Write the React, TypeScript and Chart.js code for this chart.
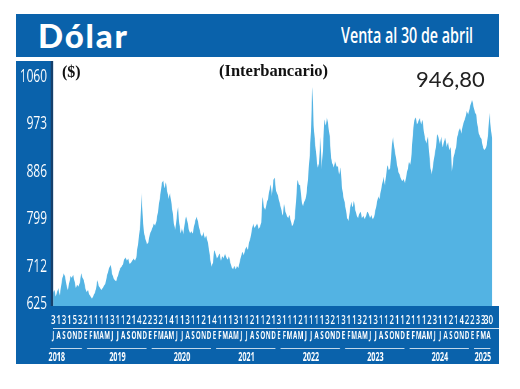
import React, { useEffect, useRef } from "react";
import { Chart, registerables } from "chart.js";

Chart.register(...registerables);

// ---------- DATA ----------
// Four readings per month (roughly weekly), Jul 2018 – Apr 30 2025
const v2018 = [
  662, 668, 656, 664, 672, 658, 675, 690, 699, 692, 678, 668,
  680, 694, 690, 696, 684, 672, 678, 674, 682, 699, 690, 686,
];
const v2019 = [
  672, 664, 668, 660, 656, 652, 657, 662, 670, 686, 676, 672,
  668, 672, 676, 680, 692, 702, 710, 714, 698, 690, 686, 684,
  692, 700, 708, 711, 715, 724, 728, 722, 726, 716, 718, 722,
  726, 722, 728, 748, 766, 790, 846, 790, 770, 760, 752, 756,
];
const v2020 = [
  770, 776, 782, 790, 786, 795, 810, 828, 845, 864, 869, 855,
  866, 850, 835, 846, 830, 812, 790, 778, 800, 821, 790, 772,
  782, 770, 790, 803, 795, 780, 772, 776, 772, 785, 796, 803,
  792, 780, 770, 766, 775, 762, 768, 758, 745, 725, 711, 718,
];
const v2021 = [
  741, 735, 726, 730, 735, 722, 730, 726, 735, 728, 724, 730,
  718, 710, 706, 712, 706, 712, 708, 720, 730, 738, 732, 742,
  748, 742, 756, 764, 778, 790, 782, 786, 790, 780, 784, 792,
  839, 820, 815, 827, 835, 850, 862, 840, 870, 874, 850, 845,
];
const v2022 = [
  835, 825, 815, 805, 826, 812, 805, 800, 806, 795, 785, 790,
  800, 835, 870, 862, 860, 833, 822, 830, 835, 850, 880, 912,
  960, 1041, 970, 940, 915, 893, 900, 949, 890, 930, 981, 970,
  985, 968, 950, 910, 900, 893, 905, 895, 895, 880, 893, 860,
];
const v2023 = [
  840, 830, 815, 800, 795, 815, 830, 820, 832, 815, 806, 800,
  808, 812, 800, 805, 798, 804, 812, 808, 800, 806, 798, 802,
  815, 826, 840, 835, 850, 862, 876, 860, 880, 897, 888, 892,
  925, 949, 930, 915, 900, 885, 880, 872, 868, 872, 864, 878,
];
const v2024 = [
  890, 903, 898, 920, 960, 980, 985, 972, 978, 984, 972, 980,
  960, 945, 937, 950, 920, 891, 880, 900, 915, 930, 954, 948,
  935, 950, 930, 940, 948, 930, 940, 925, 930, 885, 910, 920,
  930, 950, 960, 966, 955, 970, 978, 985, 997, 990, 1000, 1010,
];
const v2025 = [
  1017, 1005, 995, 990, 970, 955, 949, 945, 930, 925, 928, 935,
  960, 993, 960, 946.8,
];
const POINTS_PER_MONTH = 4;

// x-axis: first row (day digits), second row (month initials), years
const tickDays = [
  "3", "1", "3", "1", "5", "3",
  "2", "1", "1", "1", "1", "3", "1", "1", "2", "1", "4", "2",
  "2", "3", "2", "1", "4", "1", "1", "3", "1", "1", "2", "1",
  "4", "1", "1", "1", "3", "1", "1", "2", "1", "1", "2", "1",
  "3", "1", "1", "1", "2", "1", "1", "1", "1", "3", "2", "1",
  "3", "1", "1", "3", "2", "1", "3", "1", "1", "2", "1", "1",
  "2", "1", "1", "1", "2", "3", "1", "1", "2", "1", "4", "2",
  "2", "3", "3", "30",
];
const monthLetters = [
  "J", "A", "S", "O", "N", "D",
  "E", "F", "M", "A", "M", "J", "J", "A", "S", "O", "N", "D",
  "E", "F", "M", "A", "M", "J", "J", "A", "S", "O", "N", "D",
  "E", "F", "M", "A", "M", "J", "J", "A", "S", "O", "N", "D",
  "E", "F", "M", "A", "M", "J", "J", "A", "S", "O", "N", "D",
  "E", "F", "M", "A", "M", "J", "J", "A", "S", "O", "N", "D",
  "E", "F", "M", "A", "M", "J", "J", "A", "S", "O", "N", "D",
  "E", "F", "M", "A",
];
const yearLabels = ["2018", "2019", "2020", "2021", "2022", "2023", "2024", "2025"];
const yearFirstMonth = [0, 6, 18, 30, 42, 54, 66, 78];
const yTicks = [625, 712, 799, 886, 973, 1060];

const TITLE = "Dólar";
const SUBTITLE = "Venta al 30 de abril";
const UNIT = "($)";
const SERIES_NAME = "(Interbancario)";
const LAST_VALUE = "946,80";

// ---------- STYLE ----------
const BLUE = "#0a62ab";
const STRIPE = "#15406c";
const AREA = "#53b3e3";
const K = 1.6; // internal horizontal scale of the canvas (condensed type)
const CANVAS_W = 483;
const CANVAS_H = 303;
const AXIS_FONT = "'Open Sans', 'DejaVu Sans', sans-serif";

export default function App() {
  const ref = useRef<HTMLCanvasElement | null>(null);

  useEffect(() => {
    const canvas = ref.current;
    if (!canvas) return;
    const all = [...v2018, ...v2019, ...v2020, ...v2021, ...v2022, ...v2023, ...v2024, ...v2025];
    const points = all.map((v, i) => ({ x: i / POINTS_PER_MONTH, y: v }));
    const nMonths = monthLetters.length;
    const xMax = nMonths + 1;

    const frame = {
      id: "frame",
      afterDatasetsDraw(chart: any) {
        const { ctx, chartArea, width, height } = chart;
        const xs = chart.scales.x;
        const x3 = chart.scales.x3;
        const panelTop = chartArea.bottom - 7.5;
        ctx.save();
        ctx.fillStyle = BLUE;
        ctx.fillRect(0, 0, chartArea.left, height);
        ctx.fillRect(0, panelTop, width, height - panelTop);
        ctx.fillStyle = STRIPE;
        ctx.fillRect(chartArea.left - 3.5, 0, 3.5, panelTop);
        ctx.strokeStyle = "rgba(255,255,255,0.75)";
        ctx.lineWidth = 1;
        yearFirstMonth.forEach((s, i) => {
          const e = i + 1 < yearFirstMonth.length ? yearFirstMonth[i + 1] : nMonths;
          const a = xs.getPixelForValue(s + (i === 0 ? -0.5 : 0.35));
          const b = xs.getPixelForValue(e - 0.6);
          const y = Math.round(x3.top) + 0.5;
          ctx.beginPath();
          ctx.moveTo(a, y);
          ctx.lineTo(b, y);
          ctx.stroke();
        });
        ctx.restore();
      },
    };

    const baseX = (weight: number, h: number) => ({
      type: "linear" as const,
      position: "bottom" as const,
      min: 0,
      max: xMax,
      weight,
      grid: { display: false, drawTicks: false },
      border: { display: false },
      afterFit: (s: any) => {
        s.height = h;
        s.paddingLeft = 0;
        s.paddingRight = 0;
      },
    });

    const chart = new Chart(canvas, {
      type: "line",
      data: {
        datasets: [
          {
            data: points,
            fill: "start",
            backgroundColor: AREA,
            borderWidth: 0,
            borderColor: AREA,
            pointRadius: 0,
            tension: 0,
          },
        ],
      },
      plugins: [frame],
      options: {
        animation: false,
        responsive: false,
        devicePixelRatio: 1,
        events: [],
        layout: { padding: 0 },
        plugins: { legend: { display: false }, tooltip: { enabled: false }, title: { display: false } },
        scales: {
          x: {
            ...baseX(0, 14.5),
            afterBuildTicks: (s: any) => {
              s.ticks = tickDays.map((_, i) => ({ value: i + 0.05 }));
            },
            ticks: {
              autoSkip: false,
              maxRotation: 0,
              minRotation: 0,
              color: "#ffffff",
              padding: 0.5,
              z: 1,
              font: { family: AXIS_FONT, size: 12.5, weight: "600", lineHeight: 1 },
              callback: (_v: any, i: number) => tickDays[i],
            },
          },
          x2: {
            ...baseX(1, 20),
            border: { display: true, color: "rgba(255,255,255,0.8)", width: 1, dash: [6.4, 2.2], z: 1 },
            afterBuildTicks: (s: any) => {
              s.ticks = monthLetters.map((_, i) => ({ value: i + 0.05 }));
            },
            ticks: {
              autoSkip: false,
              maxRotation: 0,
              minRotation: 0,
              color: "#ffffff",
              padding: 3.5,
              z: 1,
              font: { family: AXIS_FONT, size: 10, weight: "bold", lineHeight: 1 },
              callback: (_v: any, i: number) => monthLetters[i],
            },
          },
          x3: {
            ...baseX(2, 16),
            afterBuildTicks: (s: any) => {
              s.ticks = yearFirstMonth.map((m, i) => {
                const e = i + 1 < yearFirstMonth.length ? yearFirstMonth[i + 1] : nMonths;
                return { value: i === 0 ? m + 0.7 : (m + e) / 2 };
              });
            },
            ticks: {
              autoSkip: false,
              maxRotation: 0,
              minRotation: 0,
              color: "#ffffff",
              padding: 3.5,
              z: 1,
              font: { family: AXIS_FONT, size: 11.5, weight: "bold", lineHeight: 1 },
              callback: (_v: any, i: number) => yearLabels[i],
            },
          },
          y: {
            type: "linear",
            position: "left",
            min: 625,
            max: 1088.5,
            grid: { display: false, drawTicks: false },
            border: { display: false },
            afterBuildTicks: (s: any) => {
              s.ticks = yTicks.map((v) => ({ value: v }));
            },
            afterFit: (s: any) => {
              s.width = 37 * K;
              s.paddingTop = 0;
              s.paddingBottom = 0;
            },
            ticks: {
              color: "#ffffff",
              padding: 9.6,
              z: 1,
              font: { family: AXIS_FONT, size: 19, weight: "normal", lineHeight: 1 },
              callback: (v: any) => (v === yTicks[0] ? [String(v), ""] : String(v)),
            },
          },
        },
      } as any,
    });
    return () => chart.destroy();
  }, []);

  return (
    <div style={{ position: "absolute", left: 0, top: 0, width: 520, height: 389, background: "#fff", overflow: "hidden" }}>
      <div style={{ position: "absolute", left: 16, top: 14, width: 483, height: 43, background: BLUE }}>
        <div
          style={{
            position: "absolute",
            left: 22,
            top: 2,
            color: "#fff",
            fontFamily: "Lato, 'Open Sans', sans-serif",
            fontWeight: 900,
            fontSize: 33,
            letterSpacing: 1.8,
            lineHeight: "38px",
            whiteSpace: "nowrap",
          }}
        >
          {TITLE}
        </div>
        <div style={{ position: "absolute", right: 26, top: 8, whiteSpace: "nowrap" }}>
          <span
            style={{
              display: "inline-block",
              color: "#fff",
              fontFamily: "'Open Sans', sans-serif",
              fontWeight: 600,
              fontSize: 21,
              lineHeight: "26px",
              transform: "scaleX(0.68)",
              transformOrigin: "right center",
            }}
          >
            {SUBTITLE}
          </span>
        </div>
      </div>
      <div style={{ position: "absolute", left: 16, top: 61, width: CANVAS_W, height: CANVAS_H }}>
        <canvas
          ref={ref}
          width={Math.round(CANVAS_W * K)}
          height={CANVAS_H}
          style={{ width: CANVAS_W + "px", height: CANVAS_H + "px", display: "block" }}
        />
      </div>
      <div
        style={{
          position: "absolute",
          left: 62,
          top: 62,
          fontFamily: "'Liberation Serif', 'Times New Roman', serif",
          fontWeight: "bold",
          fontSize: 16,
          color: "#111",
          lineHeight: "20px",
        }}
      >
        {UNIT}
      </div>
      <div
        style={{
          position: "absolute",
          left: 219,
          top: 61,
          fontFamily: "'Liberation Serif', 'Times New Roman', serif",
          fontWeight: "bold",
          fontSize: 16.5,
          color: "#111",
          lineHeight: "20px",
          whiteSpace: "nowrap",
        }}
      >
        {SERIES_NAME}
      </div>
      <div
        style={{
          position: "absolute",
          left: 416,
          top: 66,
          fontFamily: "Lato, 'Open Sans', sans-serif",
          fontWeight: 400,
          fontSize: 22,
          color: "#222",
          lineHeight: "26px",
          whiteSpace: "nowrap",
        }}
      >
        {LAST_VALUE}
      </div>
    </div>
  );
}
